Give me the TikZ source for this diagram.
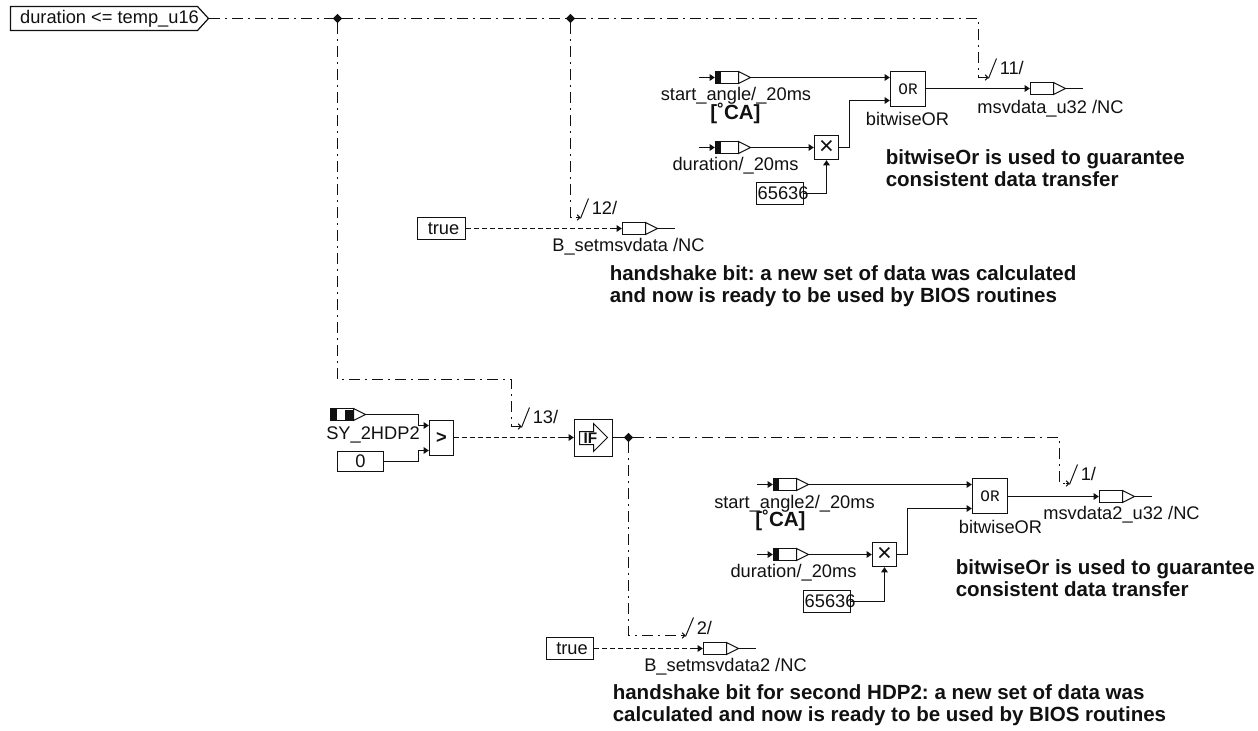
\documentclass[tikz,border=0pt]{standalone}
\usepackage{fontspec}
\setmainfont{Liberation Sans}
\newfontfamily\monof{Liberation Mono}
\usetikzlibrary{arrows.meta,shapes.geometric}
\definecolor{ink}{HTML}{111111}
\newcommand{\lbl}{\fontsize{13.7}{16}\selectfont}
\newcommand{\bld}{\fontsize{15.4}{16.5}\selectfont\bfseries\frenchspacing}
\newcommand{\kval}{\makebox[35pt][l]{\hspace*{0.8pt}65636}}
\tikzset{
  wire/.style={draw=ink,line width=0.75pt},
  tip/.style={-{Triangle[length=4pt,width=5pt]}},
  dashdot/.style={wire,dash pattern=on 8.25pt off 3.75pt on 1.5pt off 3.75pt},
  dots/.style={wire,dash pattern=on 3.6pt off 2.4pt},
  hook/.style={-{Straight Barb[length=2pt,width=4pt]}},
  boxed/.style={draw=ink,line width=0.9pt,fill=white,inner sep=0pt,text=ink,font=\lbl},
  sz/.style 2 args={minimum width=#1*0.75pt,minimum height=#2*0.75pt},
  txt/.style={inner sep=0pt,text=ink,font=\lbl},
  note/.style={inner sep=0pt,text=ink,font=\bld,align=left,anchor=west},
  junction/.style={diamond,fill=ink,inner sep=0pt,minimum size=7pt},
}
% input block: name, x of left of body, y centre
\newcommand{\inblk}[3]{%
  \coordinate (#1-from) at (#2-17,#3);
  \node[boxed,sz={23}{12}] (#1) at (#2+11.5,#3) {};
  \fill[ink] (#2,#3-6) rectangle (#2+5,#3+6);
  \draw[wire,fill=white] (#2+23,#3-6) -- (#2+35,#3) -- (#2+23,#3+6) -- cycle;
  \coordinate (#1-tip) at (#2+35,#3);
  \draw[wire,tip] (#1-from) -- (#1.west);
}
% output block: name, x of left of body, y centre
\newcommand{\outblk}[3]{%
  \node[boxed,sz={23}{12}] (#1) at (#2+11.5,#3) {};
  \draw[wire,fill=white] (#2+23,#3-6) -- (#2+35,#3) -- (#2+23,#3+6) -- cycle;
  \coordinate (#1-tip) at (#2+35,#3);
  \coordinate (#1-end) at (#2+52,#3);
  \draw[wire] (#1-tip) -- (#1-end);
}
% conditional branch marker: name, corner x, corner y, text
\newcommand{\branchmark}[4]{%
  \coordinate (#1-end) at (#2+10,#3);
  \coordinate (#1-s) at (#2+10,#3+1);
  \coordinate (#1-t) at (#2+18,#3-19);
  \draw[wire] (#1-s) -- (#1-t);
  \node[txt,anchor=west] (#1-lab) at (#2+21,#3-10) {#4};
}
\begin{document}
\begin{tikzpicture}[x=0.75pt,y=-0.75pt]
\useasboundingbox (0,0) rectangle (1258,731);
\begin{scope}[shift={(0.5,0.5)}]

% top port
\node[inner sep=0pt] (port) at (208,18) {};
\draw[boxed] (10,6) -- (197,6) -- (208,18) -- (197,30) -- (10,30) -- cycle;
\node[txt] (portlab) at (109,18) {duration <= temp\_u16};

\node[junction] (j1) at (337,18) {};
\node[junction] (j2) at (570,18) {};
\coordinate (c11a) at (978,18);
\coordinate (c11b) at (978,77);
\coordinate (c12) at (570,217);
\coordinate (c13a) at (337,379);
\coordinate (c13b) at (511,379);
\coordinate (c13c) at (511,426);

\branchmark{m11}{978}{77}{11/}
\branchmark{m12}{570}{217}{12/}
\branchmark{m13}{511}{426}{13/}

\draw[dashdot] (port) -- (j1) -- (j2) -- (c11a) -- (c11b) -- (m11-end);
\draw[dashdot] (j2) -- (c12) -- (m12-end);
\draw[dashdot] (j1) -- (c13a) -- (c13b) -- (c13c) -- (m13-end);
\draw[wire,hook] ([xshift=-3pt]m11-end) -- (m11-end);
\draw[wire,hook] ([xshift=-3pt]m12-end) -- (m12-end);
\draw[wire,hook] ([xshift=-3pt]m13-end) -- (m13-end);

% upper group
\inblk{sa}{715}{77}
\inblk{du}{715}{147}
\node[boxed,sz={35}{35}] (or1) at (907.5,88.5) {\monof\fontsize{12}{12}\selectfont OR};
\node[boxed,sz={24}{24},font=\fontsize{19}{19}\selectfont] (mu1) at (826,147) {×};
\node[boxed,sz={47}{22}] (k1) at (779.5,193) {\kval};
\outblk{ms}{1030}{88}
\draw[wire,tip] (sa-tip) -- (or1.west |- sa-tip);
\draw[wire,tip] (du-tip) -- (mu1.west);
\draw[wire,tip] (mu1.east) -- (849,147) -- (849,100) -- (or1.west |- 0,100);
\draw[wire,tip] (k1.east) -- (mu1.south |- k1.east) -- (mu1.south);
\draw[wire,tip] (or1.east |- ms.west) -- (ms.west);
\node[txt] (sal) at (735.5,95) {start\_angle/\_20ms};
\node[txt,font=\bld] (ca1) at (735,113) {[˚CA]};
\node[txt] (dul) at (735,165) {duration/\_20ms};
\node[txt] (orl) at (907,118) {bitwiseOR};
\node[txt] (msl) at (1050,108) {msvdata\_u32 /NC};
\node[note] (n1) at (885,168) {bitwiseOr is used to guarantee\\consistent data transfer};

% true 1
\node[boxed,sz={48}{22}] (t1) at (441,228) {\hspace*{3pt}true};
\outblk{bs}{622}{228}
\draw[dots] (t1.east) -- ([xshift=-6pt]bs.west);
\draw[wire,tip] ([xshift=-6pt]bs.west) -- (bs.west);
\node[txt] (bsl) at (628,246) {B\_setmsvdata /NC};
\node[note] (n2) at (609,286) {handshake bit: a new set of data was calculated\\and now is ready to be used by BIOS routines};

% SY_2HDP2 and compare
\node[boxed,sz={23}{12}] (sy) at (341.5,414) {};
\fill[ink] (330,408) rectangle (336,420);
\fill[ink] (344,409) rectangle (352,419);
\draw[wire,fill=white] (353,408) -- (365,414) -- (353,420) -- cycle;
\coordinate (sy-tip) at (365,414);
\node[txt] (syl) at (372.5,434) {SY\_2HDP2};
\node[boxed,sz={46}{20}] (z) at (360,461) {0};
\node[boxed,sz={24}{35},font=\lbl\bfseries] (gt) at (441,437.5) {>};
\draw[wire,tip] (sy-tip) -- (418,414) -- (418,425) -- (gt.west |- 0,425);
\draw[wire,tip] (z.east) -- (418,461) -- (418,450) -- (gt.west |- 0,450);

% IF block
\node[boxed,sz={38}{37}] (if) at (593,437.5) {};
\draw[wire] (579,431) -- (593,431) -- (593,423) -- (607,437) -- (593,451) -- (593,444) -- (579,444) -- cycle;
\node[inner sep=0pt,text=ink,font=\fontsize{11.5}{11.5}\selectfont\bfseries] (iflab) at (590,437.5) {IF};
\draw[dots] (gt.east |- 0,437) -- ([xshift=-9pt]if.west |- 0,437);
\draw[wire,tip] ([xshift=-9pt]if.west |- 0,437) -- (if.west |- 0,437);
\node[junction] (j3) at (628,437) {};
\draw[wire] (if.east |- 0,437) -- (j3);

\coordinate (c1a) at (1059,437);
\coordinate (c1b) at (1059,483);
\coordinate (c2) at (628,635);
\branchmark{m1}{1059}{483}{1/}
\coordinate (m2-end) at (685,635);
\coordinate (m2-s) at (685,636);
\coordinate (m2-t) at (693,617);
\draw[wire] (m2-s) -- (m2-t);
\node[txt,anchor=west] (m2-lab) at (696,627) {2/};
\draw[dashdot] (j3) -- (c1a) -- (c1b) -- (m1-end);
\draw[dashdot] (j3) -- (c2) -- (m2-end);
\draw[wire,hook] ([xshift=-3pt]m1-end) -- (m1-end);
\draw[wire,hook] ([xshift=-3pt]m2-end) -- (m2-end);

% lower group
\inblk{sb}{773}{484}
\inblk{dv}{773}{554}
\node[boxed,sz={35}{35}] (or2) at (989.5,495.5) {\monof\fontsize{12}{12}\selectfont OR};
\node[boxed,sz={24}{24},font=\fontsize{19}{19}\selectfont] (mu2) at (884,554) {×};
\node[boxed,sz={47}{22}] (k2) at (826.5,601) {\kval};
\outblk{mt}{1099}{496}
\draw[wire,tip] (sb-tip) -- (or2.west |- sb-tip);
\draw[wire,tip] (dv-tip) -- (mu2.west);
\draw[wire,tip] (mu2.east) -- (907,554) -- (907,508) -- (or2.west |- 0,508);
\draw[wire,tip] (k2.east) -- (mu2.south |- k2.east) -- (mu2.south);
\draw[wire,tip] (or2.east |- mt.west) -- (mt.west);
\node[txt] (sbl) at (794,503) {start\_angle2/\_20ms};
\node[txt,font=\bld] (ca2) at (780,520) {[˚CA]};
\node[txt] (dvl) at (793,572) {duration/\_20ms};
\node[txt] (or2l) at (1000,526) {bitwiseOR};
\node[txt] (mtl) at (1121,514) {msvdata2\_u32 /NC};
\node[note] (n3) at (955,578) {bitwiseOr is used to guarantee\\consistent data transfer};

% true 2
\node[boxed,sz={47}{22}] (t2) at (569.5,648) {\hspace*{3pt}true};
\outblk{bt}{703}{648}
\draw[dots] (t2.east) -- ([xshift=-9pt]bt.west);
\draw[wire,tip] ([xshift=-9pt]bt.west) -- (bt.west);
\node[txt] (btl) at (725,666) {B\_setmsvdata2 /NC};
\node[note] (n4) at (612,705) {handshake bit for second HDP2: a new set of data was\\calculated and now is ready to be used by BIOS routines};
\end{scope}
\end{tikzpicture}
\end{document}
